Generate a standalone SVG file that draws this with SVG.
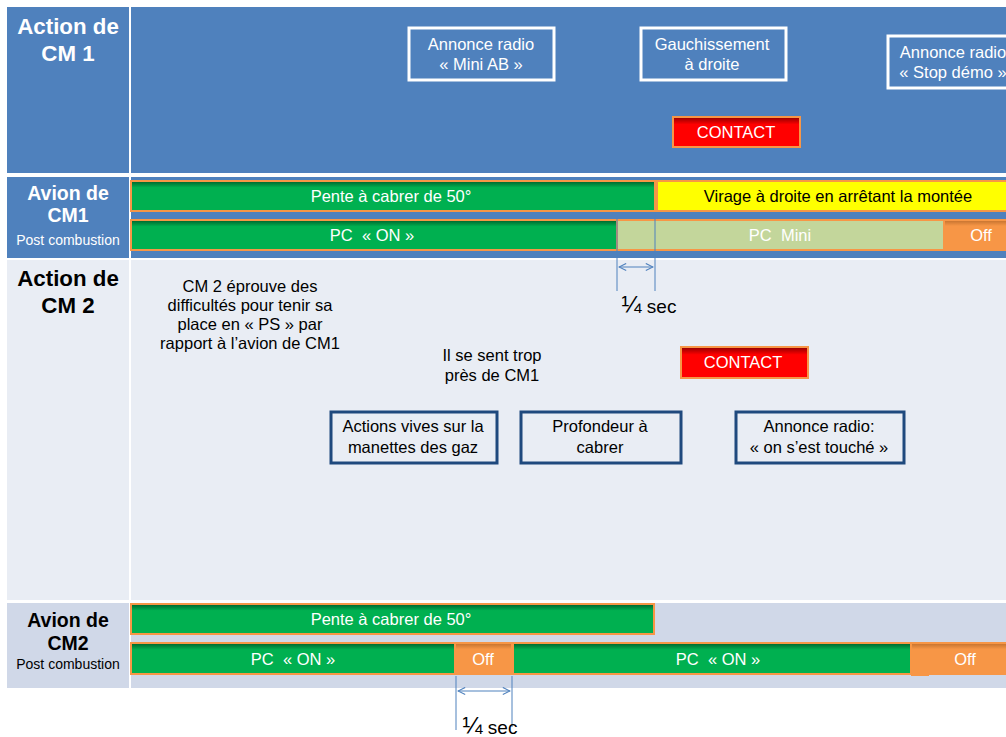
<svg xmlns="http://www.w3.org/2000/svg" width="1006" height="737" viewBox="0 0 1006 737">
<defs>
<linearGradient id="gg" x1="0" y1="0" x2="0" y2="1">
<stop offset="0" stop-color="#00602A"/><stop offset="0.22" stop-color="#00B050"/><stop offset="1" stop-color="#00B050"/>
</linearGradient>
<linearGradient id="rg" x1="0" y1="0" x2="0" y2="1">
<stop offset="0" stop-color="#8B0000"/><stop offset="0.25" stop-color="#FF0000"/><stop offset="1" stop-color="#FF0000"/>
</linearGradient>
<linearGradient id="og" x1="0" y1="0" x2="0" y2="1">
<stop offset="0" stop-color="#C0702E"/><stop offset="0.2" stop-color="#F79646"/><stop offset="1" stop-color="#F79646"/>
</linearGradient>
<marker id="ah" viewBox="0 0 10 10" refX="9" refY="5" markerWidth="9" markerHeight="9" orient="auto-start-reverse" markerUnits="userSpaceOnUse">
<path d="M1,1 L9,5 L1,9" fill="none" stroke="#4F81BD" stroke-width="1.2"/>
</marker>
<style>
text{font-family:"Liberation Sans",Arial,sans-serif;text-anchor:middle}
.hw{fill:#fff;font-weight:bold;font-size:22.3px}
.hb{fill:#000;font-weight:bold;font-size:22.3px}
.sw{fill:#fff;font-weight:bold;font-size:19.5px}
.sb{fill:#000;font-weight:bold;font-size:19.5px}
.pw{fill:#fff;font-size:14px}
.pb{fill:#000;font-size:14px}
.tw{fill:#fff;font-size:16.5px}
.tb{fill:#000;font-size:16.5px}
.sec{fill:#000;font-size:19px}
.frac{font-size:24px}
.green{fill:url(#gg);stroke:#F79646;stroke-width:2}
.off{fill:url(#og);stroke:#F79646;stroke-width:2}
.red{fill:url(#rg);stroke:#F79646;stroke-width:2}
.wbox{fill:#4F81BD;stroke:#fff;stroke-width:3}
.dbox{fill:#E9EDF4;stroke:#1F497D;stroke-width:3}
.vl{stroke:#4F81BD;stroke-width:1}
</style>
</defs>
<rect width="1006" height="737" fill="#fff"/>
<g id="grid">
<rect x="7" y="7" width="122" height="166" fill="#4F81BD"/>
<rect x="131" y="7" width="875" height="166" fill="#4F81BD"/>
<rect x="7" y="177" width="122" height="81" fill="#4F81BD"/>
<rect x="131" y="177" width="875" height="81" fill="#4F81BD"/>
<rect x="7" y="260" width="122" height="340" fill="#E9EDF4"/>
<rect x="131" y="260" width="875" height="340" fill="#E9EDF4"/>
<rect x="7" y="603" width="122" height="85" fill="#D0D8E8"/>
<rect x="131" y="603" width="875" height="85" fill="#D0D8E8"/>
</g>
<g id="labels">
<text class="hw" x="68" y="34">Action de</text>
<text class="hw" x="68" y="61">CM 1</text>
<text class="sw" x="68" y="200">Avion de</text>
<text class="sw" x="68" y="222">CM1</text>
<text class="pw" x="68" y="245">Post combustion</text>
<text class="hb" x="68" y="286">Action de</text>
<text class="hb" x="68" y="313">CM 2</text>
<text class="sb" x="68" y="627">Avion de</text>
<text class="sb" x="68" y="650">CM2</text>
<text class="pb" x="68" y="669">Post combustion</text>
</g>
<g id="cm1-actions">
<g id="n-miniab"><rect class="wbox" x="409" y="28" width="145" height="52"/>
<text class="tw" x="481" y="50">Annonce radio</text><text class="tw" x="481" y="70">« Mini AB »</text></g>
<g id="n-gauch"><rect class="wbox" x="641" y="28" width="145" height="52"/>
<text class="tw" x="712" y="50">Gauchissement</text><text class="tw" x="712" y="70">à droite</text></g>
<g id="n-stop"><rect class="wbox" x="888" y="36" width="130" height="52"/>
<text class="tw" x="953" y="58">Annonce radio</text><text class="tw" x="953" y="78">« Stop démo »</text></g>
<g id="n-contact1"><rect class="red" x="673" y="117" width="127" height="30"/>
<text class="tw" x="736" y="138">CONTACT</text></g>
</g>
<g id="cm1-plane">
<g id="b-pente1"><rect class="green" x="131" y="181" width="524" height="30"/><text class="tw" x="391" y="202">Pente à cabrer de 50°</text></g>
<g id="b-virage"><rect x="657" y="181" width="360" height="30" fill="#FFFF00" stroke="#F79646" stroke-width="2"/><text class="tb" x="838" y="202">Virage à droite en arrêtant la montée</text></g>
<g id="b-pcon1"><rect class="green" x="131" y="220" width="486" height="30"/><text class="tw" x="372" y="241">PC&#160; « ON »</text></g>
<g id="b-pcmini"><rect x="617" y="220" width="327" height="30" fill="#C3D69B" stroke="#F79646" stroke-width="2"/><text class="tw" x="780" y="241">PC&#160; Mini</text></g>
<g id="b-off1"><rect class="off" x="944" y="220" width="70" height="30"/><text class="tw" x="981" y="241">Off</text></g>
</g>
<g id="cm2-actions">
<g id="t-diff">
<text class="tb" x="250" y="292">CM 2 éprouve des</text>
<text class="tb" x="250" y="311">difficultés pour tenir sa</text>
<text class="tb" x="250" y="330">place en « PS » par</text>
<text class="tb" x="250" y="349">rapport à l’avion de CM1</text>
</g>
<g id="t-trop">
<text class="tb" x="492" y="361">Il se sent trop</text>
<text class="tb" x="492" y="381">près de CM1</text>
</g>
<g id="n-contact2"><rect class="red" x="681" y="347" width="127" height="31"/>
<text class="tw" x="743" y="368">CONTACT</text></g>
<g id="n-gaz"><rect class="dbox" x="331" y="412" width="166" height="51"/>
<text class="tb" x="413" y="432">Actions vives sur la</text><text class="tb" x="413" y="453">manettes des gaz</text></g>
<g id="n-prof"><rect class="dbox" x="521" y="412" width="160" height="51"/>
<text class="tb" x="600" y="432">Profondeur à</text><text class="tb" x="600" y="453">cabrer</text></g>
<g id="n-touche"><rect class="dbox" x="736" y="412" width="168" height="51"/>
<text class="tb" x="819" y="432">Annonce radio:</text><text class="tb" x="819" y="453">« on s’est touché »</text></g>
</g>
<g id="cm2-plane">
<g id="b-pente2"><rect class="green" x="131" y="604" width="523" height="30"/><text class="tw" x="391" y="625">Pente à cabrer de 50°</text></g>
<g id="b-pcon2"><rect class="green" x="131" y="643" width="324" height="31"/><text class="tw" x="293" y="665">PC&#160; « ON »</text></g>
<g id="b-off2"><rect class="off" x="455" y="643" width="57" height="31"/><text class="tw" x="483" y="665">Off</text></g>
<g id="b-pcon3"><rect class="green" x="513" y="643" width="398" height="31"/><text class="tw" x="718" y="665">PC&#160; « ON »</text></g>
<g id="b-off3"><rect class="off" x="911" y="643" width="110" height="31"/><rect x="911" y="674" width="18" height="2" fill="#F79646"/><text class="tw" x="965" y="665">Off</text></g>
</g>
<g id="connectors">
<line class="vl" x1="617" y1="218" x2="617" y2="291"/>
<line class="vl" x1="655" y1="212" x2="655" y2="291"/>
<line class="vl" x1="619" y1="267" x2="653" y2="267" marker-start="url(#ah)" marker-end="url(#ah)"/>
<line class="vl" x1="456" y1="676" x2="456" y2="730"/>
<line class="vl" x1="512" y1="676" x2="512" y2="727"/>
<line class="vl" x1="458" y1="691" x2="510" y2="691" marker-start="url(#ah)" marker-end="url(#ah)"/>
</g>
<g id="times">
<text class="sec" x="649" y="313"><tspan class="frac">¼</tspan> sec</text>
<text class="sec" x="490" y="734"><tspan class="frac">¼</tspan> sec</text>
</g>
</svg>
